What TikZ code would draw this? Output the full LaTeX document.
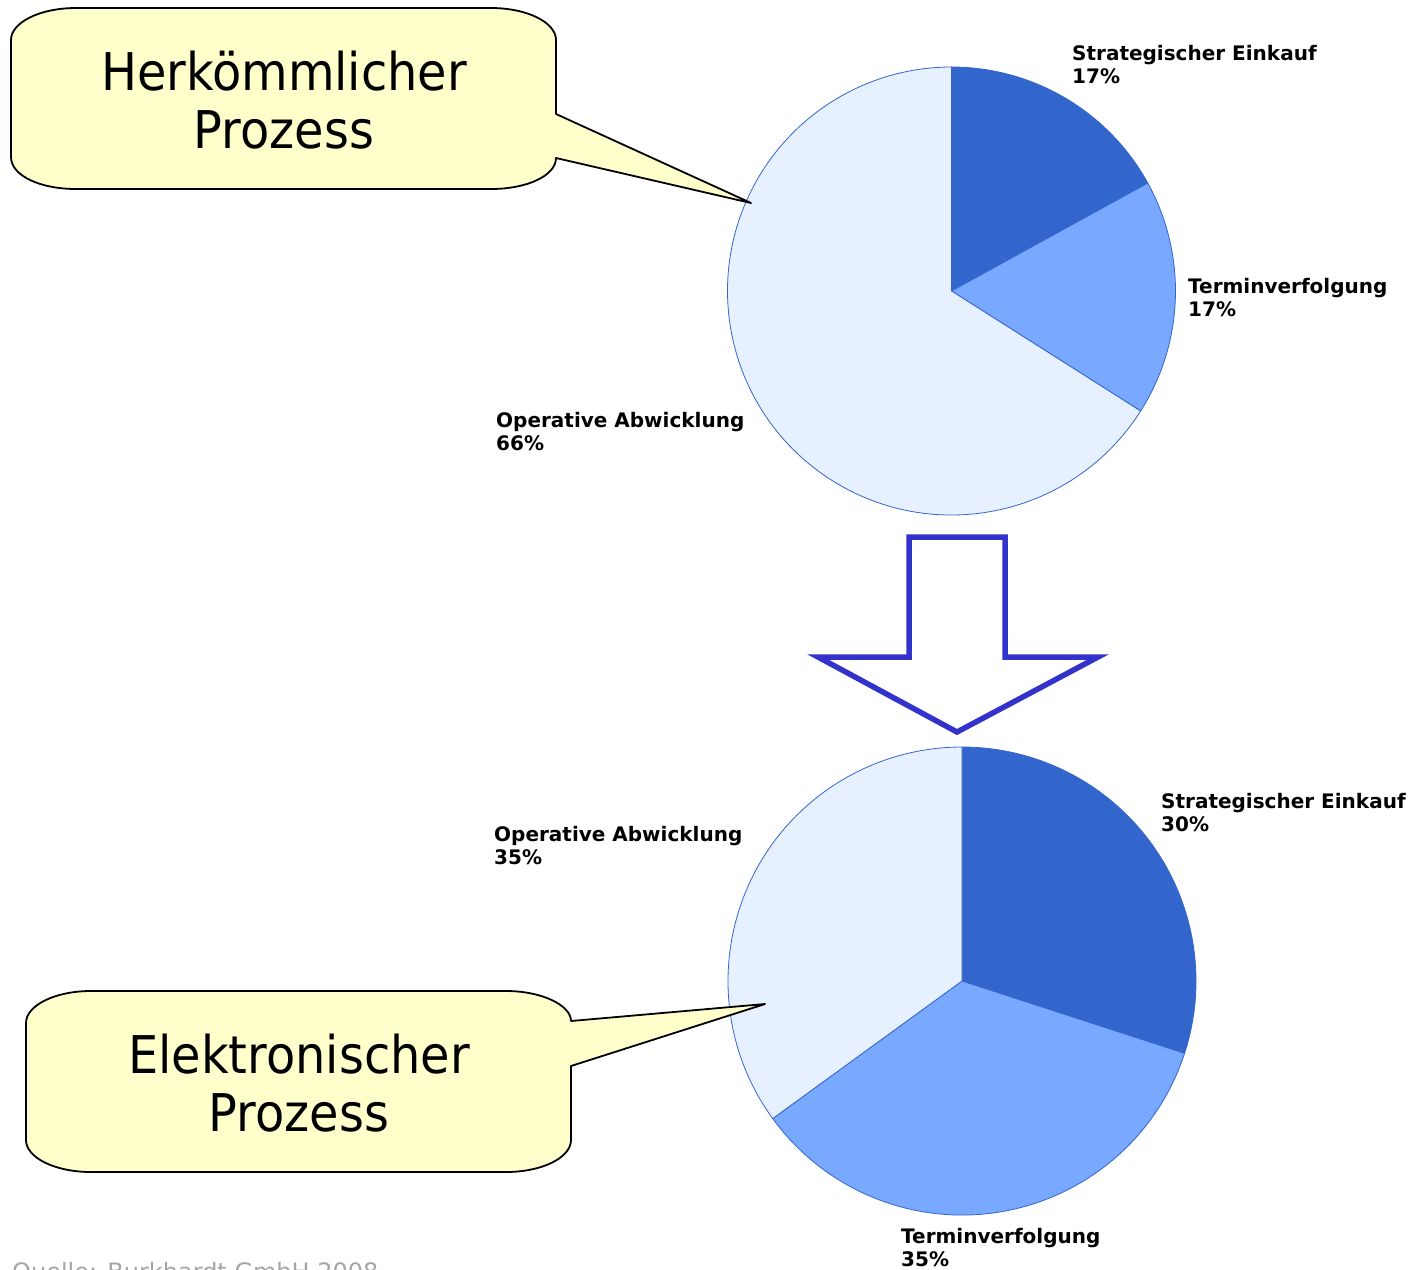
\documentclass[tikz,border=0pt]{standalone}
\usepackage{fontspec}
\setmainfont{DejaVu Sans}
\newfontfamily\calloutfont{DejaVu Sans}[FakeStretch=0.92]
\definecolor{sliceA}{RGB}{51,102,204}
\definecolor{sliceB}{RGB}{121,169,255}
\definecolor{sliceC}{RGB}{230,240,255}
\definecolor{pieedge}{RGB}{51,102,204}
\definecolor{bubblefill}{RGB}{255,255,204}
\definecolor{arrowblue}{RGB}{51,51,204}
\definecolor{sourcegray}{RGB}{165,165,165}
\tikzset{
  slice/.style={draw=pieedge, line width=0.8pt, line join=round},
  bubble/.style={draw=black, fill=bubblefill, line width=1.8pt, line join=round},
  bubbletext/.style={inner sep=0pt, anchor=base, font=\calloutfont\fontsize{52}{58}\selectfont},
  lbl/.style={inner sep=0pt, anchor=base west, font=\bfseries\fontsize{20}{23}\selectfont},
  bigarrow/.style={draw=arrowblue, fill=white, line width=5.5pt, line join=miter, miter limit=10},
}
\begin{document}
\begin{tikzpicture}[x=1pt, y=-1pt]
\useasboundingbox (0,0) rectangle (1413,1269);
\clip (0,0) rectangle (1413,1269);

% upper pie: 17 / 17 / 66
\begin{scope}[shift={(951.5,291)}]
  \fill[sliceC] (0,0) circle[radius=224];
  \path[slice, fill=sliceA] (0,0) -- (-90:224) arc[start angle=-90, end angle=-28.8, radius=224] -- cycle;
  \path[slice, fill=sliceB] (0,0) -- (-28.8:224) arc[start angle=-28.8, end angle=32.4, radius=224] -- cycle;
  \path[slice, fill=sliceC] (0,0) -- (32.4:224) arc[start angle=32.4, end angle=270, radius=224] -- cycle;
\end{scope}

% lower pie: 30 / 35 / 35
\begin{scope}[shift={(962,981)}]
  \path[slice, fill=sliceA] (0,0) -- (-90:234) arc[start angle=-90, end angle=18, radius=234] -- cycle;
  \path[slice, fill=sliceB] (0,0) -- (18:234) arc[start angle=18, end angle=144, radius=234] -- cycle;
  \path[slice, fill=sliceC] (0,0) -- (144:234) arc[start angle=144, end angle=270, radius=234] -- cycle;
\end{scope}

% slice labels
\node[lbl] (s1) at (1072,60) {\begin{tabular}[t]{@{}l@{}}Strategischer Einkauf\\17\%\end{tabular}};
\node[lbl] (t1) at (1188,293) {\begin{tabular}[t]{@{}l@{}}Terminverfolgung\\17\%\end{tabular}};
\node[lbl] (o1) at (496,427) {\begin{tabular}[t]{@{}l@{}}Operative Abwicklung\\66\%\end{tabular}};
\node[lbl] (s2) at (1161,808) {\begin{tabular}[t]{@{}l@{}}Strategischer Einkauf\\30\%\end{tabular}};
\node[lbl] (o2) at (494,841) {\begin{tabular}[t]{@{}l@{}}Operative Abwicklung\\35\%\end{tabular}};
\node[lbl] (t2) at (901,1243) {\begin{tabular}[t]{@{}l@{}}Terminverfolgung\\35\%\end{tabular}};

% transition arrow
\path[bigarrow] (909,537) -- (1005,537) -- (1005,657) -- (1098,657) -- (957,732)
  -- (818,657) -- (909,657) -- cycle;

% upper speech bubble
\path[bubble] (556,114) -- (751,203) -- (556,158)
  .. controls (556,175.7) and (526.9,189) .. (491,189)
  -- (76,189)
  .. controls (40.1,189) and (11,175.7) .. (11,157)
  -- (11,40)
  .. controls (11,22.3) and (40.1,8) .. (76,8)
  -- (491,8)
  .. controls (526.9,8) and (556,22.3) .. (556,40)
  -- cycle;
\node[bubbletext] (h) at (284,90) {\begin{tabular}[t]{@{}c@{}}Herkömmlicher\\Prozess\end{tabular}};

% lower speech bubble
\path[bubble] (571,1021) -- (765,1004) -- (571,1066)
  -- (571,1140)
  .. controls (571,1157.7) and (541.9,1172) .. (506,1172)
  -- (91,1172)
  .. controls (55.1,1172) and (26,1157.7) .. (26,1140)
  -- (26,1023)
  .. controls (26,1005.3) and (55.1,991) .. (91,991)
  -- (506,991)
  .. controls (541.9,991) and (571,1005.3) .. (571,1021)
  -- cycle;
\node[bubbletext] (e) at (299,1073) {\begin{tabular}[t]{@{}c@{}}Elektronischer\\Prozess\end{tabular}};

% source line along the lower edge
\node[inner sep=0pt, anchor=base west, text=sourcegray, font=\fontsize{24}{28}\selectfont] (src) at (12,1280.5) {Quelle: Burkhardt GmbH 2008};
\end{tikzpicture}
\end{document}
